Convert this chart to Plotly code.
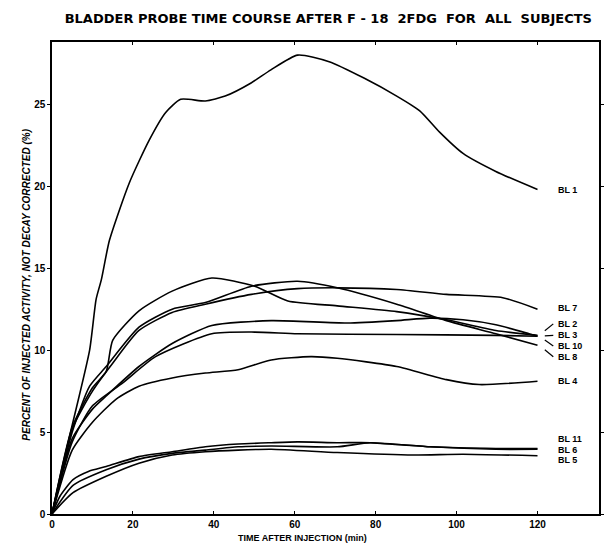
import plotly.graph_objects as go

# ---- data ----
bl1_t = [0, 4.5, 9.3, 10.9, 12.2, 14.2, 19.1, 24.0, 28.1, 31.8, 37.9, 42.8, 49.2, 54.1, 60.7, 68.5, 77.1, 85.2, 90.9, 95.8, 101.6, 109.7, 120]
bl1_v = [0, 4.9, 10.0, 13.1, 14.3, 16.7, 20.2, 22.8, 24.5, 25.3, 25.2, 25.5, 26.3, 27.1, 28.0, 27.6, 26.6, 25.5, 24.6, 23.3, 22.0, 20.9, 19.8]

bl7_t = [0, 5, 10, 15, 21.5, 29.7, 37.9, 49.3, 60.7, 70.5, 85.2, 97.5, 111.4, 120]
bl7_v = [0, 5.2, 7.5, 9.2, 11.2, 12.3, 12.8, 13.4, 13.75, 13.8, 13.7, 13.4, 13.2, 12.5]

bl2_t = [0, 5, 10, 13.4, 15, 21.5, 29.7, 39.5, 50.1, 58.3, 70.5, 85.2, 97.5, 109.7, 120]
bl2_v = [0, 5.3, 7.7, 8.7, 10.6, 12.4, 13.6, 14.4, 13.9, 13.0, 12.7, 12.35, 11.85, 11.2, 10.9]

bl3_t = [0, 5, 10, 13.4, 21.5, 29.7, 39.5, 54.2, 73, 85.2, 93.4, 101.6, 109.7, 117.9, 120]
bl3_v = [0, 4.6, 6.4, 7.2, 9.0, 10.4, 11.5, 11.8, 11.65, 11.8, 11.95, 11.85, 11.55, 11.0, 10.85]

bl10_t = [0, 5, 10, 17.5, 25.6, 39.5, 50.1, 60.7, 85.2, 109.7, 120]
bl10_v = [0, 4.4, 6.6, 8.0, 9.6, 11.0, 11.1, 11.0, 10.95, 10.9, 10.85]

bl8_t = [0, 5, 9.3, 13.4, 21.5, 29.7, 37.9, 49.3, 60.7, 70.5, 85.2, 97.5, 109.7, 120]
bl8_v = [0, 5.0, 7.8, 9.0, 11.4, 12.5, 12.9, 13.9, 14.2, 13.8, 12.8, 11.8, 11.0, 10.3]

bl4_t = [0, 5, 10, 15.8, 21.5, 29.7, 37.9, 46, 54.2, 64, 70.5, 85.2, 97.5, 105.6, 120]
bl4_v = [0, 3.9, 5.6, 7.0, 7.8, 8.3, 8.6, 8.8, 9.4, 9.6, 9.5, 9.0, 8.2, 7.9, 8.1]

bl11_t = [0, 2, 5.2, 9, 13.4, 21.5, 29.7, 37.9, 46, 54.2, 60.7, 70.5, 78.7, 93.4, 109.7, 120]
bl11_v = [0, 1.1, 2.1, 2.6, 2.9, 3.5, 3.8, 4.1, 4.27, 4.35, 4.4, 4.35, 4.35, 4.1, 4.0, 4.0]

bl6_t = [0, 5.2, 13.4, 21.5, 29.7, 37.9, 46, 54.2, 70.5, 78.7, 93.4, 109.7, 120]
bl6_v = [0, 1.75, 2.7, 3.35, 3.7, 3.9, 4.1, 4.15, 4.1, 4.35, 4.1, 3.95, 3.95]

bl5_t = [0, 5.2, 13.4, 21.5, 29.7, 37.9, 46, 54.2, 70.5, 89.3, 101.6, 120]
bl5_v = [0, 1.3, 2.3, 3.1, 3.6, 3.8, 3.9, 3.95, 3.75, 3.6, 3.65, 3.55]

series_names = ["BL 1", "BL 7", "BL 2", "BL 3", "BL 10", "BL 8", "BL 4", "BL 11", "BL 6", "BL 5"]
series_t = [bl1_t, bl7_t, bl2_t, bl3_t, bl10_t, bl8_t, bl4_t, bl11_t, bl6_t, bl5_t]
series_v = [bl1_v, bl7_v, bl2_v, bl3_v, bl10_v, bl8_v, bl4_v, bl11_v, bl6_v, bl5_v]
label_y = [19.8, 12.6, 11.6, 10.9, 10.25, 9.6, 8.1, 4.55, 3.9, 3.3]
leader = [False, False, True, True, True, True, False, False, False, False]

x_ticks = [0, 20, 40, 60, 80, 100, 120]
y_ticks = [0, 5, 10, 15, 20, 25]

title = "BLADDER PROBE TIME COURSE AFTER F - 18  2FDG  FOR  ALL  SUBJECTS"
x_title = "TIME AFTER INJECTION (min)"
y_title = "PERCENT OF INJECTED ACTIVITY, NOT DECAY CORRECTED (%)"

FONT = "Liberation Sans"

fig = go.Figure()
for name, t, v in zip(series_names, series_t, series_v):
    fig.add_trace(go.Scatter(x=t, y=v, mode="lines", name=name,
                             line=dict(color="black", width=1.6, shape="spline", smoothing=0.6),
                             showlegend=False))

label_x = 124.5
for name, t, v, ly, ld in zip(series_names, series_t, series_v, label_y, leader):
    fig.add_annotation(x=label_x, y=ly, text="<b>" + name + "</b>", showarrow=False,
                       xanchor="left", yanchor="middle", font=dict(family=FONT, size=9, color="black"))
    if ld:
        fig.add_shape(type="line", x0=t[-1] + 1.8, y0=(v[-1] + ly) / 2 - (ly - v[-1]) * 0.1,
                      x1=label_x - 0.6, y1=ly, line=dict(color="black", width=1.2))

fig.add_annotation(text="<b>" + x_title + "</b>", xref="paper", yref="paper", x=0.458, y=-0.066,
                   showarrow=False, font=dict(family=FONT, size=9, color="black"))
fig.add_annotation(text="<b><i>" + y_title + "</i></b>", xref="paper", yref="paper", x=-0.062, y=0.485,
                   showarrow=False, textangle=-90, font=dict(family=FONT, size=10, color="black"))

fig.update_layout(
    width=608, height=549,
    margin=dict(l=52, r=4, t=42, b=35),
    paper_bgcolor="white", plot_bgcolor="white",
    title=dict(text="<b>" + title + "</b>", x=0.54, xanchor="center", y=0.967, yanchor="middle",
               font=dict(family="DejaVu Sans", size=13, color="black")),
    font=dict(family=FONT, color="black"),
)
fig.update_xaxes(range=[0, 135.2], tickvals=x_ticks, ticktext=["<b>%d</b>" % v for v in x_ticks],
                 showgrid=False, zeroline=False, showline=True, linecolor="black", linewidth=1.5,
                 mirror="ticks", ticks="inside", ticklen=3, tickcolor="black",
                 tickfont=dict(family=FONT, size=10, color="black"))
fig.update_yaxes(range=[0, 28.8], tickvals=y_ticks, ticktext=["<b>%d</b>" % v for v in y_ticks],
                 showgrid=False, zeroline=False, showline=True, linecolor="black", linewidth=1.5,
                 mirror="ticks", ticks="outside", ticklen=3, tickcolor="black",
                 tickfont=dict(family=FONT, size=10, color="black"))

fig.write_html("out.html", config={"displayModeBar": False},
               post_script="document.body.style.margin='0';")
